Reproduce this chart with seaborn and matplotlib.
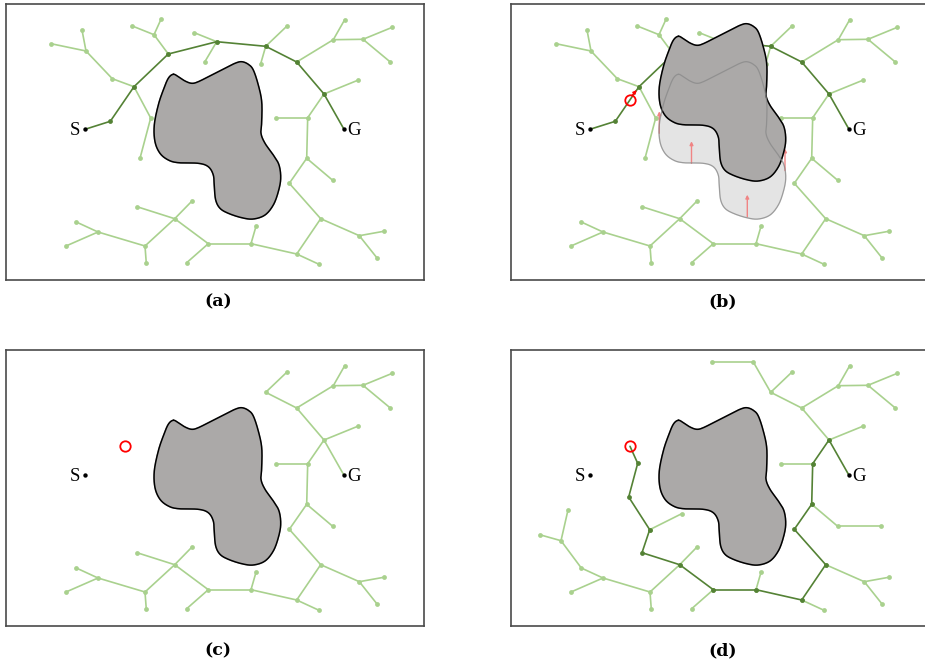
import numpy as np
import pandas as pd
import matplotlib
matplotlib.use("Agg")
import matplotlib.pyplot as plt
import seaborn as sns

sns.set_theme(style="white")
plt.rcParams["font.family"] = ["DejaVu Sans"]

LIGHT = "#a9d18e"
DARK = "#548235"
BLOB = "#aba9a8"
GHOST = "#e4e4e4"
ARROW = "#f08484"

# ---- tree vertices (panel pixel coordinates, y grows downward) ----
node_x = [85, 110.3, 134, 168.3, 216.7, 265.7, 296.7, 324, 344,       # 0-8  S ... G
          112.3, 86, 51, 82, 150.7, 140,                               # 9-14
          154, 132.3, 161, 194.3, 204.7,                               # 15-19
          286.7, 260.7, 333.3, 344.7, 363, 392.3, 390.3,               # 20-26
          357.7, 307.7, 276, 306.7, 332.7, 289.3, 320.7,               # 27-33
          359.3, 383.7, 377.3, 296.7, 319, 251, 256,                   # 34-40
          208.3, 186.7, 174.7, 192, 137, 145, 146.3, 98, 76.3, 66,     # 41-50
          248.3, 207.3, 375.7, 132.7, 123.7, 144.7, 176.7,             # 51-57
          56, 34.7, 63, 125]                                           # 58-61 (61 = robot)
node_y = [129.3, 121.3, 86.7, 54, 41.7, 46.3, 62, 94, 129.3,
          78.7, 51, 43.7, 30, 118, 158.3,
          34.7, 26, 19.3, 32.7, 62,
          26.3, 63.7, 39.7, 19.7, 39.3, 27.3, 62,
          80.3, 117.7, 117.7, 158.3, 180.3, 183.3, 218.7,
          235.7, 231.3, 258.3, 254, 264.3, 243.7, 226.3,
          243.7, 262.7, 218.7, 201, 206.7, 246, 263.3, 232, 222, 246,
          16, 16, 180.3, 117.3, 151, 183.7, 167.7,
          194.7, 188.7, 164, 100.3]

S_IDX, G_IDX, ROBOT_IDX = 0, 8, 61

# shared subtree hanging below / right of the goal side
goal_side = [(6, 22), (22, 23), (22, 24), (24, 25), (24, 26), (7, 27), (7, 28),
             (28, 29), (28, 30), (30, 31), (30, 32), (32, 33), (33, 34), (34, 35),
             (34, 36), (33, 37), (37, 38), (37, 39), (39, 40), (39, 41), (41, 42),
             (41, 43), (43, 44), (43, 45), (43, 46), (46, 47), (46, 48), (48, 49),
             (48, 50)]

path_a = [0, 1, 2, 3, 4, 5, 6, 7, 8]
branches_a = [(2, 9), (9, 10), (10, 11), (10, 12), (2, 13), (13, 14), (3, 15),
              (15, 16), (15, 17), (4, 18), (4, 19), (5, 20), (5, 21)] + goal_side

branches_c = [(8, 7), (7, 6), (6, 5), (5, 20)] + goal_side

path_d = [61, 54, 55, 56, 45, 43, 41, 39, 37, 33, 32, 30, 28, 7, 8]
branches_d = [(5, 51), (51, 52), (5, 20), (5, 6), (6, 7), (6, 22), (22, 23),
              (22, 24), (24, 25), (24, 26), (7, 27), (28, 29), (30, 31), (31, 53),
              (33, 34), (34, 35), (34, 36), (37, 38), (39, 40), (41, 42), (43, 44),
              (43, 46), (46, 47), (46, 48), (48, 50), (48, 49), (49, 58), (58, 59),
              (58, 60), (56, 57)]

# ---- obstacle outline ----
blob_x = [173.3, 178.3, 185, 191.7, 198.3, 211.7, 225, 235, 241.7, 248.3, 253.3,
          258.3, 261.7, 261.7, 261, 265, 273.3, 279, 280.7, 278.3, 273.3, 265,
          253.3, 241.7, 228.3, 220, 215.7, 214.3, 213.3, 208.3, 198.3, 178.3,
          168.3, 160, 155, 154.3, 158.3, 163.3, 168.3]
blob_y = [74.3, 76.7, 81, 83.3, 81.7, 75, 68.3, 63.3, 61.7, 64.3, 70,
          85, 101.7, 121.7, 133.3, 143.3, 155, 165, 178.3, 191.7, 205, 215,
          219, 217.7, 213.3, 208.3, 200, 186.7, 175, 166.7, 163.3, 162.7,
          160, 153.3, 141.7, 125, 105, 90, 78.3]
obstacle_shift = -38

# motion arrows on the displaced obstacle
arrow_x = [154.3, 186.5, 242.3, 280.0]
arrow_tail_y = [133.3, 163.3, 216.7, 170.5]
arrow_len = 22

captions = ["(a)", "(b)", "(c)", "(d)"]


def smooth_closed(xs, ys, n=20):
    p = np.column_stack([xs, ys])
    m = len(p)
    out = []
    for i in range(m):
        p0, p1, p2, p3 = p[i - 1], p[i], p[(i + 1) % m], p[(i + 2) % m]
        t = np.linspace(0, 1, n, endpoint=False)[:, None]
        seg = 0.5 * ((2 * p1) + (-p0 + p2) * t + (2 * p0 - 5 * p1 + 4 * p2 - p3) * t ** 2
                     + (-p0 + 3 * p1 - 3 * p2 + p3) * t ** 3)
        out.append(seg)
    out = np.vstack(out)
    return np.append(out[:, 0], out[0, 0]), np.append(out[:, 1], out[0, 1])


def edge_frame(edges):
    rows = []
    for k, (i, j) in enumerate(edges):
        rows.append((node_x[i], node_y[i], k))
        rows.append((node_x[j], node_y[j], k))
    return pd.DataFrame(rows, columns=["x", "y", "edge"])


def draw_tree(ax, branches, path, z=2):
    light_df = edge_frame(branches)
    sns.lineplot(data=light_df, x="x", y="y", units="edge", estimator=None, sort=False,
                 color=LIGHT, linewidth=1.2, ax=ax, legend=False, zorder=z)
    light_nodes = sorted({i for e in branches for i in e} - {S_IDX, G_IDX, ROBOT_IDX})
    sns.scatterplot(x=[node_x[i] for i in light_nodes], y=[node_y[i] for i in light_nodes],
                    color=LIGHT, s=12, linewidth=0, ax=ax, zorder=z + 0.5, legend=False)
    if path:
        dark_edges = list(zip(path[:-1], path[1:]))
        dark_df = edge_frame(dark_edges)
        sns.lineplot(data=dark_df, x="x", y="y", units="edge", estimator=None, sort=False,
                     color=DARK, linewidth=1.2, ax=ax, legend=False, zorder=z + 1)
        dark_nodes = [i for i in path if i not in (S_IDX, G_IDX, ROBOT_IDX)]
        sns.scatterplot(x=[node_x[i] for i in dark_nodes], y=[node_y[i] for i in dark_nodes],
                        color=DARK, s=12, linewidth=0, ax=ax, zorder=z + 1.5, legend=False)


def draw_endpoints(ax):
    ax.scatter([node_x[S_IDX], node_x[G_IDX]], [node_y[S_IDX], node_y[G_IDX]],
               s=10, color="black", zorder=20, linewidths=0)
    ax.text(node_x[S_IDX] - 4.5, node_y[S_IDX] + 6, "S", ha="right", va="baseline",
            family="Liberation Serif", fontsize=13.5, color="black", zorder=20)
    ax.text(node_x[G_IDX] + 3.5, node_y[G_IDX] + 5.5, "G", ha="left", va="baseline",
            family="Liberation Serif", fontsize=13.5, color="black", zorder=20)


def draw_robot(ax):
    ax.plot([node_x[ROBOT_IDX]], [node_y[ROBOT_IDX]], marker="o", ms=7.5, mfc="none",
            mec="#ff0000", mew=1.3, zorder=25)


fig = plt.figure(figsize=(9.25, 6.65), dpi=100)
W, H = 925, 665
BOX_W, BOX_H = 418.3, 275.7
panel_origin = [(5.7, 4.3), (510.7, 4.3), (5.7, 350.3), (510.7, 350.3)]
caption_pos = [(218, 301.5), (723, 301.5), (218, 651), (723, 651)]

axes = []
for (lx, ty) in panel_origin:
    ax = fig.add_axes([lx / W, 1 - (ty + BOX_H) / H, BOX_W / W, BOX_H / H])
    axes.append(ax)

bx, by = smooth_closed(blob_x, blob_y)

# (a) initial tree and path
ax = axes[0]
draw_tree(ax, branches_a, path_a)
ax.fill(bx, by, color=BLOB, zorder=10)
ax.plot(bx, by, color="black", lw=1.1, zorder=11)
draw_endpoints(ax)

# (b) obstacle moves onto the path
ax = axes[1]
draw_tree(ax, branches_a, path_a)
ax.fill(bx, by, color=GHOST, zorder=8)
for x0, t0 in zip(arrow_x, arrow_tail_y):
    ax.annotate("", xy=(x0, t0 - arrow_len), xytext=(x0, t0),
                arrowprops=dict(arrowstyle="-|>", color=ARROW, lw=1.0,
                                mutation_scale=5, shrinkA=0, shrinkB=0), zorder=9)
ax.fill(bx, by + obstacle_shift, color=BLOB, zorder=10)
ax.plot(bx, by + obstacle_shift, color="black", lw=1.1, zorder=11)
ax.plot(bx, by, color="#8a8a8a", lw=0.9, alpha=0.8, zorder=12)
draw_robot(ax)
ax.annotate("", xy=(131.7, 90), xytext=(126.9, 95.6),
            arrowprops=dict(arrowstyle="-|>", color="#ff0000", lw=1.0,
                            mutation_scale=5, shrinkA=0, shrinkB=0), zorder=26)
draw_endpoints(ax)

# (c) blocked branches pruned from the tree
ax = axes[2]
draw_tree(ax, branches_c, None)
ax.fill(bx, by, color=BLOB, zorder=10)
ax.plot(bx, by, color="black", lw=1.1, zorder=11)
draw_robot(ax)
draw_endpoints(ax)

# (d) tree repaired and new path found
ax = axes[3]
draw_tree(ax, branches_d, path_d)
ax.fill(bx, by, color=BLOB, zorder=10)
ax.plot(bx, by, color="black", lw=1.1, zorder=11)
draw_robot(ax)
draw_endpoints(ax)

for ax in axes:
    ax.set_xlim(5.7, 424)
    ax.set_ylim(280, 4.3)
    ax.set_xticks([])
    ax.set_yticks([])
    ax.set_xlabel("")
    ax.set_ylabel("")
    for sp in ax.spines.values():
        sp.set_visible(True)
        sp.set_color("#4a4a4a")
        sp.set_linewidth(1.2)

for cap, (cx, cy) in zip(captions, caption_pos):
    fig.text(cx / W, 1 - cy / H, cap, ha="center", va="center", fontsize=12.5,
             fontweight="bold", family="DejaVu Serif", color="black")

fig.savefig("out.png", dpi=100)
